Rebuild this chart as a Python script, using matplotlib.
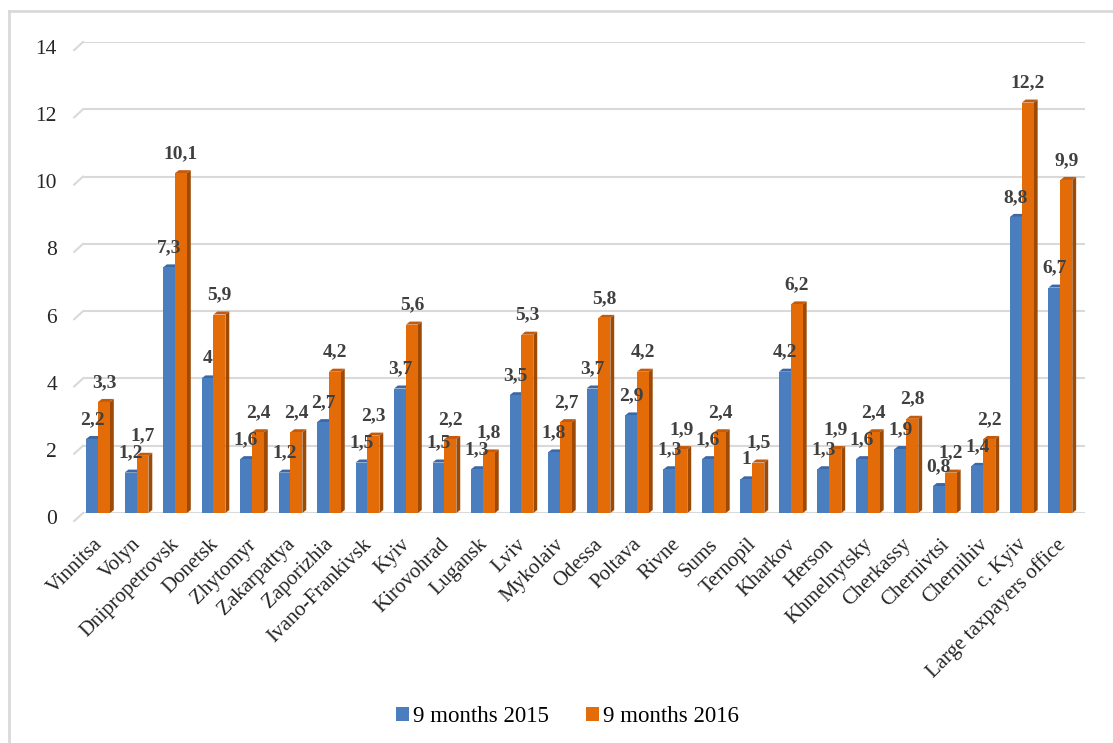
import matplotlib.pyplot as plt
from matplotlib.patches import Polygon, Patch
from matplotlib.lines import Line2D
from matplotlib.transforms import offset_copy

regions = ["Vinnitsa", "Volyn", "Dnipropetrovsk", "Donetsk", "Zhytomyr", "Zakarpattya",
           "Zaporizhia", "Ivano-Frankivsk", "Kyiv", "Kirovohrad", "Lugansk", "Lviv",
           "Mykolaiv", "Odessa", "Poltava", "Rivne", "Sums", "Ternopil", "Kharkov",
           "Herson", "Khmelnytsky", "Cherkassy", "Chernivtsi", "Chernihiv", "c. Kyiv",
           "Large taxpayers office"]
m9_2015 = [2.2, 1.2, 7.3, 4, 1.6, 1.2, 2.7, 1.5, 3.7, 1.5, 1.3, 3.5, 1.8, 3.7, 2.9,
           1.3, 1.6, 1, 4.2, 1.3, 1.6, 1.9, 0.8, 1.4, 8.8, 6.7]
m9_2016 = [3.3, 1.7, 10.1, 5.9, 2.4, 2.4, 4.2, 2.3, 5.6, 2.2, 1.8, 5.3, 2.7, 5.8, 4.2,
           1.9, 2.4, 1.5, 6.2, 1.9, 2.4, 2.8, 1.2, 2.2, 12.2, 9.9]
series_names = ["9 months 2015", "9 months 2016"]
yticks = [0, 2, 4, 6, 8, 10, 12, 14]

plt.rcParams['font.family'] = ['Liberation Serif', 'DejaVu Serif']

front = ["#4a7ebf", "#e36c09"]
side = ["#2f5597", "#9c4a06"]
top = ["#3a68a8", "#c55a0b"]
grid_c = "#d9d9d9"

W, H = 1113, 743
fig = plt.figure(figsize=(W / 100, H / 100), dpi=100)
ax = fig.add_axes([83 / W, 1 - 513 / H, (1085 - 83) / W, (513 - 42) / H])
ax.set_xlim(-0.39, 25.64)
ax.set_ylim(0, 14)
ax.axis("off")

# gridlines with little perspective stub on the left
for v in yticks:
    ax.axhline(v, color=grid_c, lw=1.5, zorder=0)
    ax.plot([-0.62, -0.39], [v - 0.24, v], color=grid_c, lw=1.5, clip_on=False, zorder=0)
    t = offset_copy(ax.transData, fig=fig, x=-26, y=-7, units="dots")
    ax.text(-0.39, v, str(v), transform=t, ha="right", va="center",
            fontsize=15.5, color="#262626")

bw = 0.31
dx, dy = 0.1, 0.09
for k, vals in enumerate([m9_2015, m9_2016]):
    for i, h in enumerate(vals):
        x0 = i - bw if k == 0 else i
        ax.add_patch(Polygon([(x0 + bw, 0), (x0 + bw + dx, dy), (x0 + bw + dx, h + dy),
                              (x0 + bw, h)], closed=True, fc=side[k], ec="none", zorder=2 + k * 2))
        ax.add_patch(Polygon([(x0, h), (x0 + dx, h + dy), (x0 + bw + dx, h + dy),
                              (x0 + bw, h)], closed=True, fc=top[k], ec="none", zorder=2 + k * 2))
        ax.bar(x0, h, width=bw, align="edge", color=front[k], zorder=3 + k * 2)
        lbl = f"{h:g}".replace(".", ",")
        ax.annotate(lbl, (x0 + bw / 2, h), xytext=(0, 8), textcoords="offset points",
                    ha="center", va="bottom", fontsize=14, fontweight="bold",
                    color="#404040", zorder=10)

# category labels
for i, name in enumerate(regions):
    t = offset_copy(ax.transData, fig=fig, x=-5, y=-22, units="dots")
    ax.text(i, 0, name, transform=t, rotation=45, rotation_mode="anchor",
            ha="right", va="top", fontsize=15, color="#262626")

# outer frame (left and top edge visible)
fig.add_artist(Line2D([9 / W, 9 / W], [0, 1 - 11 / H], color=grid_c, lw=2))
fig.add_artist(Line2D([9 / W, 1], [1 - 11 / H, 1 - 11 / H], color=grid_c, lw=2))

handles = [Patch(fc=front[0], ec="none"), Patch(fc=front[1], ec="none")]
fig.legend(handles, series_names, loc="center", bbox_to_anchor=(0.51, 1 - 717 / H),
           ncol=2, frameon=False, fontsize=16.5, handlelength=0.55, handleheight=0.55,
           handletextpad=0.2, columnspacing=1.6)

fig.savefig("out.png", dpi=100)
